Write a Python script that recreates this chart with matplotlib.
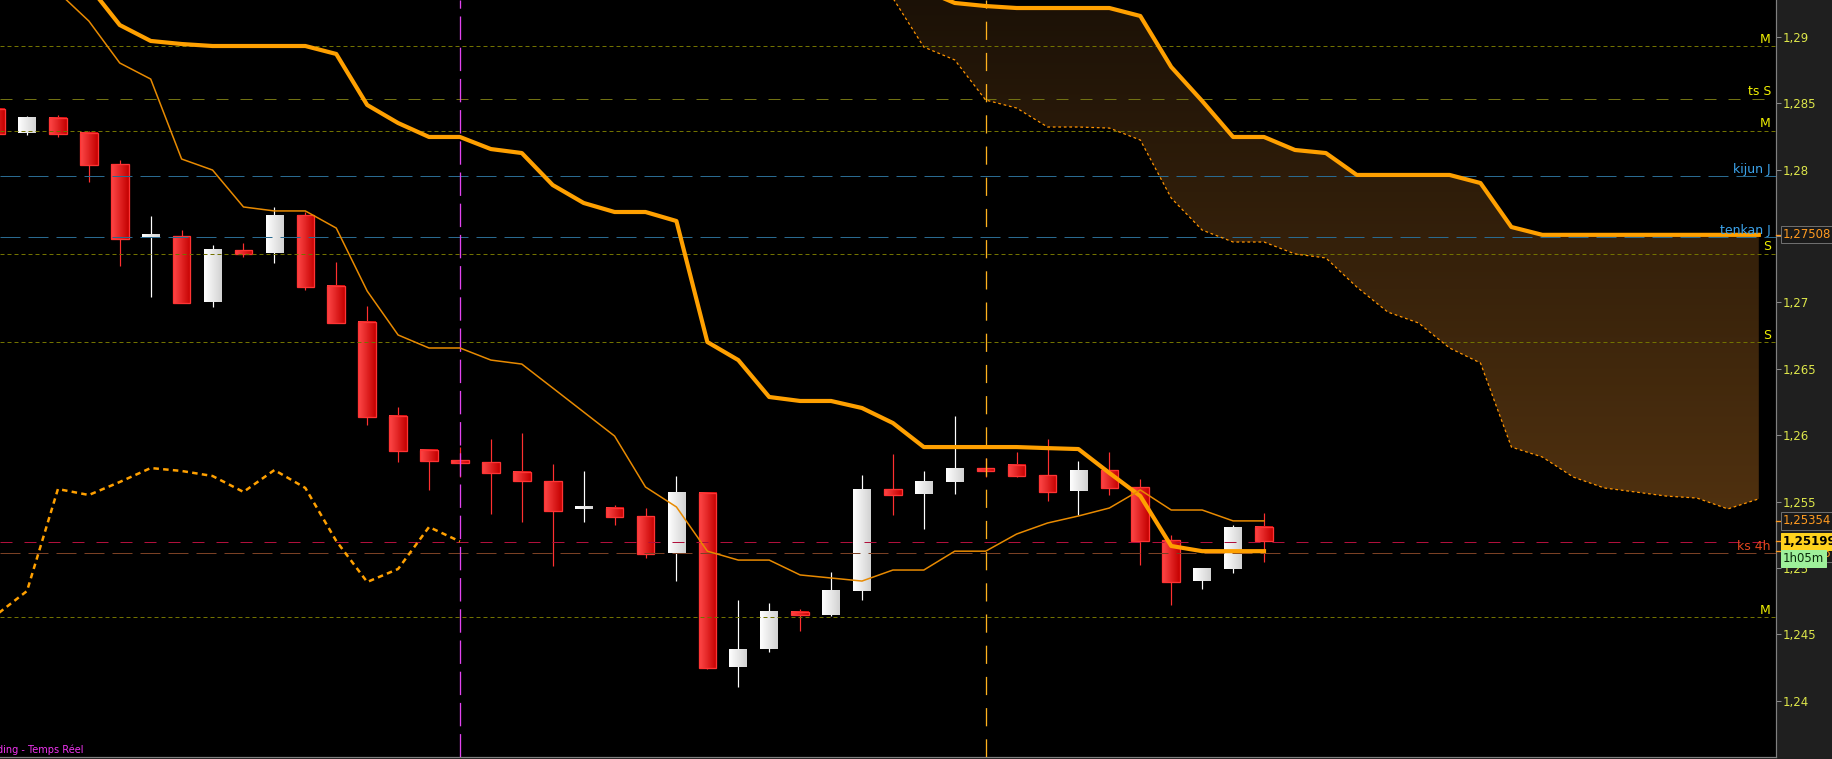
import matplotlib
matplotlib.use("Agg")
import matplotlib.pyplot as plt
import matplotlib.transforms as mtransforms
import numpy as np
from matplotlib.colors import LinearSegmentedColormap
from matplotlib.patches import Rectangle


# bars, index -1 .. 40 (bar -1 is cut by the left edge)
bar_idx = list(range(-1, 41))
opens = [1.28456, 1.28275, 1.28388, 1.28275, 1.28041, 1.27492, 1.27499, 1.27002, 1.27394, 1.27371,
         1.27657, 1.27123, 1.26852, 1.26144, 1.25888, 1.25812, 1.25797, 1.25722, 1.25654, 1.25440,
         1.25451, 1.25391, 1.25112, 1.25564, 1.24254, 1.24389, 1.24668, 1.24645, 1.24826, 1.25594,
         1.25556, 1.25647, 1.25752, 1.25775, 1.25700, 1.25579, 1.25737, 1.25609, 1.25210, 1.24901,
         1.24992, 1.25308]
highs = [1.28471, 1.28403, 1.28410, 1.28290, 1.28072, 1.27650, 1.27544, 1.27431, 1.27447, 1.27718,
         1.27680, 1.27303, 1.26972, 1.26212, 1.25888, 1.25910, 1.25971, 1.26016, 1.25782, 1.25730,
         1.25474, 1.25451, 1.25692, 1.25564, 1.24758, 1.24736, 1.24690, 1.24969, 1.25700, 1.25858,
         1.25730, 1.26144, 1.25828, 1.25873, 1.25971, 1.25805, 1.25873, 1.25669, 1.25248, 1.24992,
         1.25323, 1.25413]
lows = [1.28252, 1.28260, 1.28245, 1.27906, 1.27273, 1.27040, 1.26995, 1.26965, 1.27341, 1.27296,
        1.27093, 1.26844, 1.26076, 1.25797, 1.25587, 1.25684, 1.25406, 1.25346, 1.25014, 1.25346,
        1.25323, 1.25075, 1.24901, 1.24239, 1.24103, 1.24367, 1.24525, 1.24638, 1.24758, 1.25398,
        1.25293, 1.25556, 1.25684, 1.25684, 1.25504, 1.25398, 1.25549, 1.25022, 1.24721, 1.24841,
        1.24962, 1.25044]
closes = [1.28267, 1.28388, 1.28267, 1.28034, 1.27477, 1.27499, 1.26995, 1.27394, 1.27364, 1.27657,
          1.27115, 1.26844, 1.26136, 1.25880, 1.25805, 1.25790, 1.25715, 1.25654, 1.25429, 1.25447,
          1.25383, 1.25105, 1.25564, 1.24246, 1.24389, 1.24668, 1.24645, 1.24826, 1.25594, 1.25549,
          1.25647, 1.25752, 1.25730, 1.25692, 1.25572, 1.25737, 1.25602, 1.25203, 1.24894, 1.24992,
          1.25308, 1.25199]

kijun = [1.29879, 1.29615, 1.29502, 1.29382, 1.29088, 1.28968, 1.28945, 1.28930, 1.28930, 1.28930,
         1.28930, 1.28870, 1.28486, 1.28350, 1.28245, 1.28245, 1.28154, 1.28124, 1.27883, 1.27748,
         1.27680, 1.27680, 1.27612, 1.26701, 1.26565, 1.26287, 1.26257, 1.26257, 1.26204, 1.26091,
         1.25910, 1.25910, 1.25910, 1.25910, 1.25902, 1.25895, 1.25715, 1.25541, 1.25165, 1.25126,
         1.25126, 1.25126]
tenkan = [1.29804, 1.29578, 1.29337, 1.29118, 1.28802, 1.28681, 1.28079, 1.27996, 1.27718, 1.27688,
          1.27688, 1.27559, 1.27085, 1.26754, 1.26656, 1.26656, 1.26565, 1.26535, 1.26355, 1.26174,
          1.25993, 1.25609, 1.25459, 1.25126, 1.25059, 1.25059, 1.24947, 1.24924, 1.24901, 1.24984,
          1.24984, 1.25126, 1.25126, 1.25255, 1.25338, 1.25391, 1.25451, 1.25587, 1.25436, 1.25436,
          1.25354, 1.25354]

# cloud, index 27 .. 56
senkou_idx = list(range(27, 57))
senkou_a = [1.29615, 1.29291, 1.28922, 1.28825, 1.28523, 1.28463, 1.28320, 1.28320, 1.28312, 1.28222,
            1.27785, 1.27544, 1.27454, 1.27454, 1.27364, 1.27334, 1.27115, 1.26927, 1.26844, 1.26656,
            1.26543, 1.25910, 1.25835, 1.25684, 1.25602, 1.25572, 1.25541, 1.25526, 1.25444, 1.25520]
senkou_b = [1.29879, 1.29578, 1.29352, 1.29254, 1.29231, 1.29216, 1.29216, 1.29216, 1.29216, 1.29156,
            1.28772, 1.28516, 1.28245, 1.28245, 1.28147, 1.28124, 1.27959, 1.27959, 1.27959, 1.27959,
            1.27898, 1.27567, 1.27508, 1.27508, 1.27508, 1.27508, 1.27508, 1.27508, 1.27508, 1.27508]
CHIKOU_SHIFT = 26

# horizontal levels: (price, label, colour, dash pattern in px)
levels = [
    (1.28930, "M", "#727200", (4, 3)),
    (1.28531, "ts S", "#727212", (12, 12)),
    (1.28290, "M", "#727200", (4, 3)),
    (1.27951, "kijun J", "#2a6a90", (20, 8)),
    (1.27490, "tenkan J", "#2a6a90", (20, 8)),
    (1.27364, "S", "#727200", (4, 3)),
    (1.26701, "S", "#727200", (4, 3)),
    (1.25195, "ks 4h", "#b0103c", (12, 12)),
    (1.25112, "", "#7a4024", (20, 8)),
    (1.24630, "M", "#727200", (4, 3)),
]
label_colors = {"kijun J": "#3ca4ec", "tenkan J": "#3ca4ec", "ks 4h": "#e2461e"}

vline_magenta = 14
vline_orange = 31

yticks = [1.24, 1.245, 1.25, 1.255, 1.26, 1.265, 1.27, 1.275, 1.28, 1.285, 1.29]
price_tenkan_box = "1,25354"
price_cloud_box = "1,27508"
price_last = "1,25199"
price_hidden = "1,25126"
countdown = "1h05m"

W, H = 1833, 759
fig = plt.figure(figsize=(W / 100, H / 100), dpi=100, facecolor="#1f1f1f")
ax = fig.add_axes([0, 2 / H, 1776 / W, 757 / H])
ax.set_facecolor("black")
PX = 0.72  # one pixel in points

ylo, yhi = 1.235761, 1.292764
xlo, xhi = -0.873, 56.556

# cloud with vertical gradient
poly = ax.fill_between(senkou_idx, senkou_a, senkou_b, color="none", lw=0, zorder=1)
cloud_cmap = LinearSegmentedColormap.from_list("cloud", ["#50310f", "#130c05"])
grad = np.linspace(0, 1, 256).reshape(-1, 1)
img = ax.imshow(grad, cmap=cloud_cmap, aspect="auto", origin="lower",
                extent=[senkou_idx[0], senkou_idx[-1], 1.2540, 1.2990], zorder=1)
img.set_clip_path(poly.get_paths()[0], transform=ax.transData)
ax.plot(senkou_idx, senkou_a, color="#ff9400", lw=0.9, dashes=(2.2, 2.2), zorder=4)
ax.plot(senkou_idx, senkou_b, color="#ffa000", lw=3.0, solid_joinstyle="round", zorder=4)

# candles
red_cmap = LinearSegmentedColormap.from_list("red", ["#ff4848", "#c40000"])
white_cmap = LinearSegmentedColormap.from_list("white", ["#ffffff", "#d2d2d2"])
hgrad = np.linspace(0, 1, 64).reshape(1, -1)
bw = 0.57
min_body = 2 / 13280
for x, o, h, l, c in zip(bar_idx, opens, highs, lows, closes):
    bull = c >= o
    col = "#ffffff" if bull else "#ff3030"
    ax.vlines(x, l, h, colors=col, lw=PX * 1.2, zorder=2)
    bot, top = min(o, c), max(o, c)
    if top - bot < min_body:
        top = bot + min_body
    ax.imshow(hgrad, cmap=white_cmap if bull else red_cmap, aspect="auto",
              extent=[x - bw / 2, x + bw / 2, bot, top], interpolation="bilinear", zorder=2.1)
    if not bull:
        ax.add_patch(Rectangle((x - bw / 2, bot), bw, top - bot, fill=False,
                               ec="#ff3434", lw=PX * 1.3, zorder=2.2))
ax.set_xlim(xlo, xhi)
ax.set_ylim(ylo, yhi)

# horizontal levels and labels
blend = mtransforms.blended_transform_factory(ax.transAxes, ax.transData)
for price, label, color, dash in levels:
    ax.axhline(price, color=color, lw=PX, dashes=dash, zorder=3)
    if label:
        dy = -8 if label == "ks 4h" else 3.5
        ax.annotate(label, xy=(1, price), xycoords=blend, xytext=(-5, dy),
                    textcoords="offset pixels", ha="right", va="baseline", fontsize=9,
                    color=label_colors.get(label, "#f0f000"), zorder=6)

# vertical markers
ax.axvline(vline_magenta, color="#e244f0", lw=PX * 1.3, dashes=(18, 6), zorder=3)
ax.axvline(vline_orange, color="#ffb21e", lw=PX * 1.3, dashes=(14, 10), zorder=3)

# indicator lines
ax.plot(bar_idx, kijun, color="#ffa000", lw=3.0, solid_joinstyle="round", zorder=4)
ax.plot(bar_idx, tenkan, color="#e88a00", lw=1.1, zorder=4)
chikou_x = [i - CHIKOU_SHIFT for i in bar_idx if i - CHIKOU_SHIFT >= -1]
chikou_y = [c for i, c in zip(bar_idx, closes) if i - CHIKOU_SHIFT >= -1]
ax.plot(chikou_x, chikou_y, color="#ffa000", lw=1.8, dashes=(2.2, 1.7), zorder=4)

# right axis
ax.yaxis.tick_right()
ax.set_yticks(yticks)
ax.set_yticklabels([f"{v:.3f}".rstrip("0").replace(".", ",") for v in yticks])
ax.tick_params(axis="y", colors="#8a8a8a", labelcolor="#dde64a", length=5 * PX,
               width=PX, pad=2 * PX, labelsize=8.5)
ax.set_xticks([])
for side in ("top", "left"):
    ax.spines[side].set_visible(False)
for side in ("right", "bottom"):
    ax.spines[side].set_color("#808080")
    ax.spines[side].set_linewidth(PX * 1.2)


def price_box(text, price, fc, ec, tc, dy=0, bold=False, z=7):
    ax.annotate(text, xy=(1, price), xycoords=blend, xytext=(7, dy), textcoords="offset pixels",
                ha="left", va="center", fontsize=8.5, color=tc,
                fontweight="bold" if bold else "normal", annotation_clip=False, zorder=z,
                bbox=dict(boxstyle="square,pad=0.18", fc=fc, ec=ec, lw=PX))


for p in (1.27508, 1.25354, 1.25199, 1.25126):
    ax.plot([1, 1 + 5 / 1776], [p, p], transform=blend, color="#ff9a20", lw=PX * 1.3,
            clip_on=False, zorder=6)

price_box(price_cloud_box, 1.27508, "#1a1a1a", "#6e6e6e", "#ff9a20")
price_box(price_tenkan_box, 1.25354, "#1a1a1a", "#6e6e6e", "#ff9a20")
price_box(price_hidden, 1.25126, "#1a1a1a", "#6e6e6e", "#ff9a20", dy=-2)
price_box(price_last, 1.25199, "#ffd21e", "#ffd21e", "#000000", bold=True, z=8)
price_box(countdown, 1.25199, "#9ef09a", "#9ef09a", "#0a2a0a", dy=-17, z=9)

ax.annotate("ding - Temps Réel", xy=(0, 0), xycoords="axes fraction", xytext=(-3, 4),
            textcoords="offset pixels", ha="left", va="baseline", fontsize=7,
            color="#f034f0", zorder=6)

fig.savefig("out.png", dpi=100, facecolor=fig.get_facecolor())
